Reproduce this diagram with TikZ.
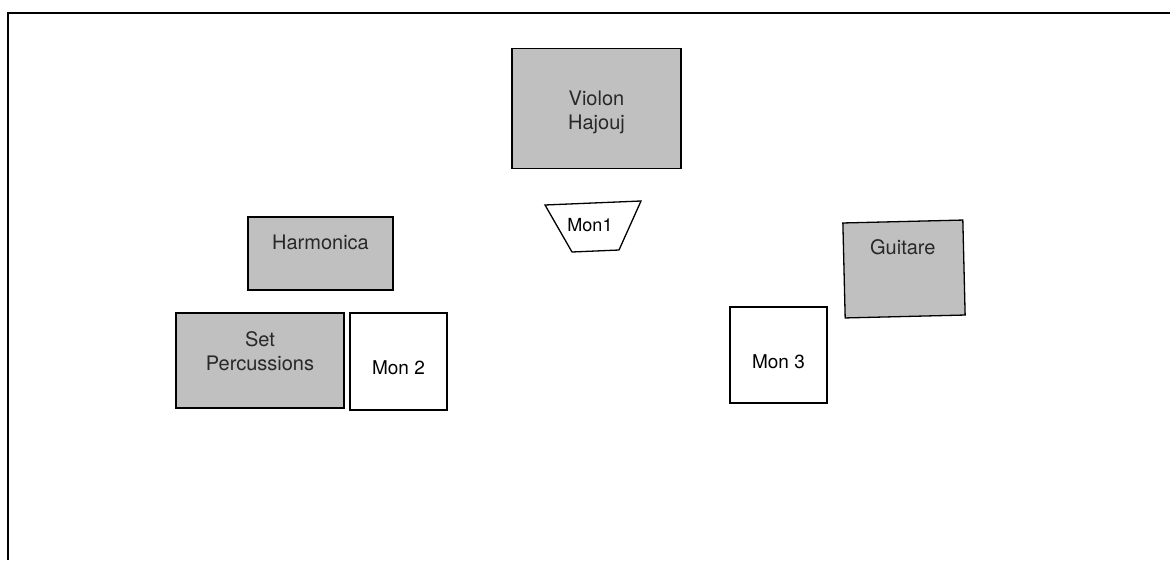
\documentclass[tikz,border=0pt]{standalone}
\usepackage{fontspec}
\setmainfont{TeX Gyre Heros}
\usetikzlibrary{positioning}
\definecolor{boxgray}{RGB}{192,192,192}
\definecolor{textgray}{RGB}{40,40,40}

\begin{document}
\begin{tikzpicture}[
		x=1pt, y=-1pt,
		line width=1.3pt,
		frame/.style={line width=2.2pt},
		instrument/.style={draw, fill=boxgray, inner sep=0pt},
		monitor/.style={draw, fill=white, inner sep=0pt},
		instr text/.style={text=textgray, font=\fontsize{20}{24}\selectfont, align=center, inner sep=0pt},
		mon text/.style={font=\fontsize{19}{22}\selectfont, inner sep=0pt}
		]
	\useasboundingbox (0,0) rectangle (1170,560);

	% Stage frame
	\draw[frame] (8,560) -- (8,13) -- (1170,13);

	% Violon
	\node[instrument, minimum width=169, minimum height=120] (violon) at (596.5,108.5) {};
	\node[instr text] (violon text) at ([yshift=-4pt]violon) {Violon\\Hajouj};

	% Mon1
	\draw[fill=white] (545,205) -- (641,201) -- (619,250) -- (572,252) -- cycle;
	\node[mon text, font=\fontsize{18}{21}\selectfont] (mon1) at (590,225) {Mon1};

	% Harmonica
	\node[instrument, minimum width=145, minimum height=73] (harmonica) at (320.5,253.5) {};
	\node[instr text, below=18pt of harmonica.north] (harmonica text) {Harmonica};

	% Set Percussions
	\node[instrument, minimum width=168, minimum height=95] (percussions) at (260,360.5) {};
	\node[instr text, below=19pt of percussions.north] (percussions text) {Set\\Percussions};

	% Mon 2
	\node[monitor, minimum width=97, minimum height=97] (mon2) at (398.5,361.5) {};
	\node[mon text] (mon2 text) at ([yshift=-6pt]mon2) {Mon 2};

	% Mon 3
	\node[monitor, minimum width=97, minimum height=96] (mon3) at (778.5,355) {};
	\node[mon text] (mon3 text) at ([yshift=-7pt]mon3) {Mon 3};

	% Guitare
	\node[instrument, minimum width=120, minimum height=95, rotate=1.4] (guitare) at (904,269) {};
	\node[instr text, below=18pt of guitare.north] (guitare text) {Guitare};

\end{tikzpicture}
\end{document}
